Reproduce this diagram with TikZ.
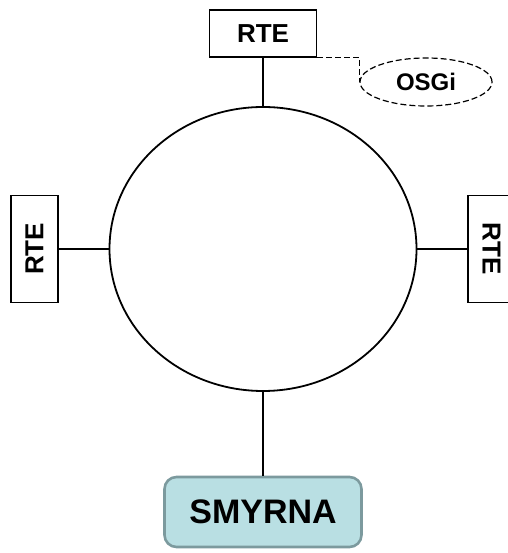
\documentclass[tikz,border=0pt]{standalone}
\usepackage{fontspec}
\setmainfont{Liberation Sans}
\definecolor{SmyFill}{RGB}{185,223,227}
\definecolor{SmyLine}{RGB}{124,154,158}
\usetikzlibrary{positioning,shapes.geometric}

\begin{document}
\begin{tikzpicture}[
    x=1pt, y=1pt, font=\bfseries,
    rte/.style={draw, line width=1.2pt, minimum width=107pt, minimum height=47pt, inner sep=0pt, font=\fontsize{26}{26}\selectfont\bfseries},
    ringnode/.style={draw, ellipse, line width=1.8pt, minimum width=307pt, minimum height=284pt},
    fw/.style={draw, dash pattern=on 6pt off 3pt, ellipse, line width=1.2pt, minimum width=132pt, minimum height=48pt, inner sep=0pt, font=\fontsize{24}{24}\selectfont\bfseries},
    core/.style={draw=SmyLine, fill=SmyFill, rounded corners=12pt, line width=2.6pt, minimum width=197pt, minimum height=70pt, font=\fontsize{34}{34}\selectfont\bfseries},
    link/.style={line width=1.1pt}
  ]
    \useasboundingbox (0,0) rectangle (507,553);
    \node[ringnode](ring) at (263,304){};
    \node[rte](toprte) at (263,519.5){RTE};
    \node[rte,rotate=90](leftrte) at (34.5,304){RTE};
    \node[rte,rotate=-90](rightrte) at (491.5,304){RTE};
    \node[fw](osgi) at (426,471){OSGi};
    \node[core](smyrna) at (263,41){SMYRNA};
    \draw[link](toprte)--(ring);
    \draw[link](leftrte)--(ring);
    \draw[link](rightrte)--(ring);
    \draw[link](smyrna)--(ring);
    \draw[link,dash pattern=on 6pt off 3pt](toprte.south east)-|(osgi.west);
  \end{tikzpicture}
\end{document}
